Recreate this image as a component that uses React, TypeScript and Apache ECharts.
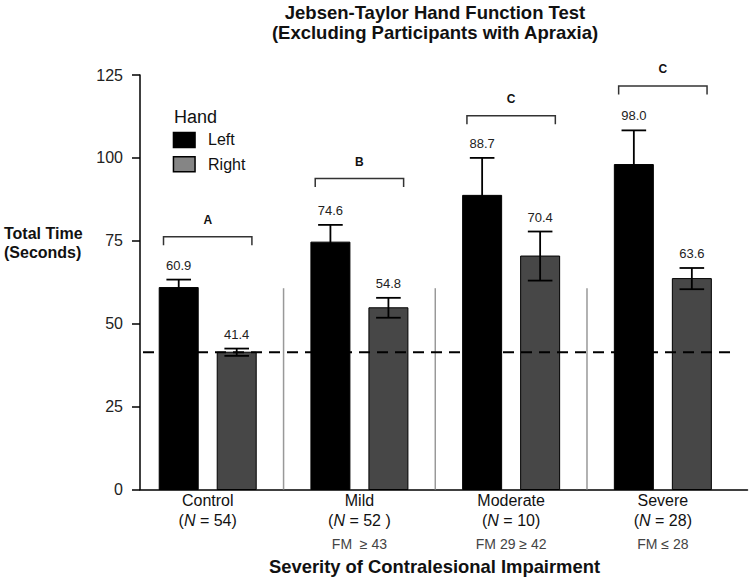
import React, { useEffect, useRef } from 'react';
import * as echarts from 'echarts';

// ---------- data ----------
const categories = ['Control', 'Mild', 'Moderate', 'Severe'];
const groupSizes = ['54', '52 ', '10', '28'];
const fmRanges = ['', 'FM  \u2265 43', 'FM 29 \u2265 42', 'FM \u2264 28'];
const leftValues = [60.9, 74.6, 88.7, 98.0];
const rightValues = [41.4, 54.8, 70.4, 63.6];
const leftErrors = [2.4, 5.2, 11.3, 10.3];
const rightErrors = [1.1, 3.0, 7.4, 3.2];
const bracketLevels = [76.2, 93.8, 112.7, 121.7];
const bracketLetters = ['A', 'B', 'C', 'C'];
const yTicks = [0, 25, 50, 75, 100, 125];
const referenceValue = 41.4; // Control, right hand
const referenceExtent = [-0.4265, 3.443];
const separatorPositions = [0.5, 1.5, 2.5];
const separatorTop = 60.7;

// ---------- layout / style ----------
const FONT = '"Liberation Sans", Arial, Helvetica, sans-serif';
const X_MIN = -0.4463;
const X_MAX = 3.558;
const BAR_W = 39;
const BAR_OFFSET = 29;
const CAP_HALF = 12.3;
const BRACKET_HALF = 44.2;
const BRACKET_DROP = 8.5;

export default function App() {
  const ref = useRef<HTMLDivElement>(null);

  useEffect(() => {
    if (!ref.current) return;
    const chart = echarts.init(ref.current, undefined, { renderer: 'svg' });

    const barSeries = (name: string, values: number[], side: number, color: string) => ({
      name,
      type: 'custom',
      z: 2,
      itemStyle: { color },
      encode: { x: 0, y: 1 },
      data: values.map((v, i) => [i, v]),
      renderItem: (params: any, api: any) => {
        const i = api.value(0);
        const v = api.value(1);
        const p0 = api.coord([i, 0]);
        const p1 = api.coord([i, v]);
        const cx = p0[0] + side * BAR_OFFSET;
        return {
          type: 'rect',
          shape: { x: cx - BAR_W / 2, y: p1[1], width: BAR_W, height: p0[1] - p1[1] },
          style: { fill: color, stroke: '#000', lineWidth: 1 },
        };
      },
    });

    const errorData = [
      ...leftValues.map((v, i) => [i, v, leftErrors[i], -1]),
      ...rightValues.map((v, i) => [i, v, rightErrors[i], 1]),
    ];

    const option: any = {
      animation: false,
      backgroundColor: '#fff',
      textStyle: { fontFamily: FONT },
      title: [
        {
          text: 'Jebsen-Taylor Hand Function Test\n(Excluding Participants with Apraxia)',
          left: 435,
          top: 3,
          textAlign: 'center',
          padding: 0,
          textStyle: {
            fontFamily: FONT,
            fontSize: 18.5,
            fontWeight: 'bold',
            lineHeight: 19.6,
            color: '#111',
          },
        },
      ],
      graphic: [
        {
          type: 'text',
          x: 174,
          y: 116.7,
          style: {
            text: 'Hand',
            fontFamily: FONT,
            fontSize: 18,
            fill: '#111',
            verticalAlign: 'middle',
          },
        },
        {
          type: 'text',
          x: 4,
          y: 223.5,
          style: {
            text: 'Total Time\n(Seconds)',
            fontFamily: FONT,
            fontSize: 16,
            fontWeight: 'bold',
            lineHeight: 19,
            fill: '#111',
            verticalAlign: 'top',
          },
        },
      ],
      legend: {
        orient: 'vertical',
        left: 172.7,
        top: 131.7,
        padding: 0,
        icon: 'rect',
        itemWidth: 21.6,
        itemHeight: 15,
        itemGap: 7.8,
        selectedMode: false,
        textStyle: {
          fontFamily: FONT,
          fontSize: 16,
          lineHeight: 15,
          color: '#111',
          padding: [0, 0, 0, 8],
        },
        data: [
          { name: 'Left', itemStyle: { color: '#000', borderColor: '#000', borderWidth: 1.5 } },
          { name: 'Right', itemStyle: { color: '#858585', borderColor: '#000', borderWidth: 1.5 } },
        ],
      },
      grid: {
        left: 140,
        right: 3.5,
        top: 75,
        bottom: 90.5,
        containLabel: false,
        outerBoundsMode: 'none',
      },
      xAxis: {
        type: 'value',
        min: X_MIN,
        max: X_MAX,
        splitLine: { show: false },
        axisTick: { show: false },
        axisLine: { show: true, onZero: false, lineStyle: { color: '#000', width: 1.5 } },
        axisLabel: {
          customValues: [0, 1, 2, 3],
          margin: 1,
          fontFamily: FONT,
          formatter: (value: number) => {
            const i = Math.round(value);
            let s = `{c|${categories[i]}}\n{c|(}{n|N}{c| = ${groupSizes[i]})}`;
            if (fmRanges[i]) s += `\n{f|${fmRanges[i]}}`;
            return s;
          },
          rich: {
            c: { fontFamily: FONT, fontSize: 16, lineHeight: 20, color: '#111' },
            n: { fontFamily: FONT, fontSize: 16, lineHeight: 20, color: '#111', fontStyle: 'italic' },
            f: { fontFamily: FONT, fontSize: 14, lineHeight: 26, color: '#444' },
          },
        },
        name: 'Severity of Contralesional Impairment',
        nameLocation: 'middle',
        nameGap: 66.5,
        nameTextStyle: {
          fontFamily: FONT,
          fontSize: 18.4,
          fontWeight: 'bold',
          lineHeight: 20,
          color: '#111',
          padding: [0, 18.5, 0, 0],
        },
      },
      yAxis: {
        type: 'value',
        min: yTicks[0],
        max: yTicks[yTicks.length - 1],
        interval: yTicks[1] - yTicks[0],
        splitLine: { show: false },
        axisLine: { show: true, onZero: false, lineStyle: { color: '#000', width: 1.5 } },
        axisTick: { show: true, length: 8, lineStyle: { color: '#000', width: 1.5 } },
        axisLabel: { fontFamily: FONT, fontSize: 16, color: '#222', margin: 17 },
      },
      series: [
        // category separators
        {
          type: 'custom',
          z: 1,
          silent: true,
          data: separatorPositions.map((x) => [x, separatorTop]),
          encode: { x: 0, y: 1 },
          renderItem: (params: any, api: any) => {
            const x = api.value(0);
            const a = api.coord([x, 0]);
            const b = api.coord([x, api.value(1)]);
            return {
              type: 'line',
              shape: { x1: a[0], y1: a[1], x2: b[0], y2: b[1] },
              style: { stroke: '#999', lineWidth: 1.5 },
            };
          },
        },
        barSeries('Left', leftValues, -1, '#000'),
        barSeries('Right', rightValues, 1, '#474747'),
        // error bars + value labels
        {
          type: 'custom',
          z: 3,
          silent: true,
          data: errorData,
          encode: { x: 0, y: 1 },
          renderItem: (params: any, api: any) => {
            const i = api.value(0);
            const m = api.value(1);
            const se = api.value(2);
            const side = api.value(3);
            const top = api.coord([i, m + se]);
            const bot = api.coord([i, m - se]);
            const cx = top[0] + side * BAR_OFFSET;
            const ls = { stroke: '#000', lineWidth: 1.8 };
            return {
              type: 'group',
              children: [
                { type: 'line', shape: { x1: cx, y1: top[1], x2: cx, y2: bot[1] }, style: ls },
                { type: 'line', shape: { x1: cx - CAP_HALF, y1: top[1], x2: cx + CAP_HALF, y2: top[1] }, style: ls },
                { type: 'line', shape: { x1: cx - CAP_HALF, y1: bot[1], x2: cx + CAP_HALF, y2: bot[1] }, style: ls },
                {
                  type: 'text',
                  x: cx,
                  y: top[1] - 14.5,
                  style: {
                    text: m.toFixed(1),
                    fontFamily: FONT,
                    fontSize: 13,
                    fill: '#222',
                    align: 'center',
                    verticalAlign: 'middle',
                  },
                },
              ],
            };
          },
        },
        // significance brackets
        {
          type: 'custom',
          z: 3,
          silent: true,
          data: bracketLevels.map((v, i) => [i, v]),
          encode: { x: 0, y: 1 },
          renderItem: (params: any, api: any) => {
            const p = api.coord([api.value(0), api.value(1)]);
            const cx = p[0];
            const y = p[1];
            return {
              type: 'group',
              children: [
                {
                  type: 'polyline',
                  shape: {
                    points: [
                      [cx - BRACKET_HALF, y + BRACKET_DROP],
                      [cx - BRACKET_HALF, y],
                      [cx + BRACKET_HALF, y],
                      [cx + BRACKET_HALF, y + BRACKET_DROP],
                    ],
                  },
                  style: { stroke: '#333', lineWidth: 1.5, fill: null },
                },
                {
                  type: 'text',
                  x: cx,
                  y: y - 16.8,
                  style: {
                    text: bracketLetters[params.dataIndex],
                    fontFamily: FONT,
                    fontSize: 12,
                    fontWeight: 'bold',
                    fill: '#111',
                    align: 'center',
                    verticalAlign: 'middle',
                  },
                },
              ],
            };
          },
        },
        // dashed reference line (Control right-hand mean)
        {
          type: 'custom',
          z: 4,
          silent: true,
          data: [[referenceExtent[0], referenceValue, referenceExtent[1]]],
          encode: { x: 0, y: 1 },
          renderItem: (params: any, api: any) => {
            const a = api.coord([api.value(0), api.value(1)]);
            const b = api.coord([api.value(2), api.value(1)]);
            return {
              type: 'line',
              shape: { x1: a[0], y1: a[1], x2: b[0], y2: b[1] },
              style: { stroke: '#000', lineWidth: 2, lineDash: [11, 7] },
            };
          },
        },
      ],
    };

    chart.setOption(option);
    return () => chart.dispose();
  }, []);

  return (
    <div
      ref={ref}
      style={{ position: 'absolute', left: 0, top: 0, width: 751, height: 580, background: '#fff' }}
    />
  );
}
